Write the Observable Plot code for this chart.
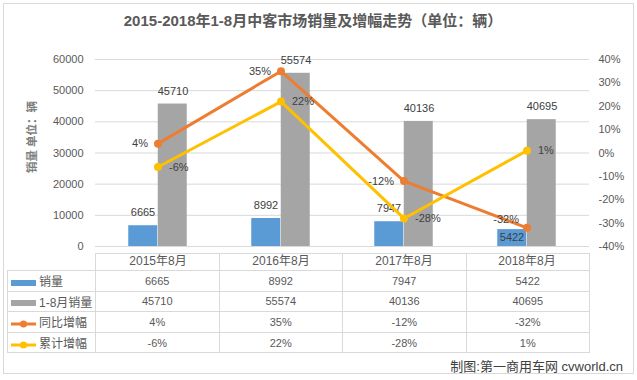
<!DOCTYPE html>
<html>
<head>
<meta charset="utf-8">
<script src="https://cdn.jsdelivr.net/npm/d3@7"></script>
<script src="https://cdn.jsdelivr.net/npm/@observablehq/plot@0.6"></script>
<style>
  body { margin: 0; background: #fff; }
  #wrap { position: relative; width: 637px; height: 380px; overflow: hidden; font-family: "Liberation Sans", "Noto Sans CJK SC", sans-serif; color: #595959; }
  #frame { position: absolute; left: 3px; top: 3px; width: 629px; height: 369px; border: 1px solid #d9d9d9; box-sizing: content-box; }
  #title { position: absolute; left: 0; top: 11px; width: 626px; text-align: center; font-size: 15px; font-weight: bold; color: #595959; line-height: 20px; }
  #chart { position: absolute; left: 0; top: 0; }
  #tbl { position: absolute; left: 7px; top: 253px; border-collapse: collapse; table-layout: fixed; }
  #tbl td { border: 1px solid #d9d9d9; padding: 0; text-align: center; font-size: 11px; color: #595959; white-space: nowrap; }
  #tbl td.lab { text-align: left; font-size: 12px; padding-left: 3px; }
  #tbl tr.head td { height: 16px; }
  #tbl tr.head td.blank { border: none; border-right: 1px solid #d9d9d9; }
  #tbl tr.row td { height: 19.6px; }
  #caption { position: absolute; right: 14px; top: 356px; font-size: 13px; color: #404040; }
  .key { display: inline-block; vertical-align: middle; margin-right: 3px; }
</style>
</head>
<body>
<div id="wrap">
  <div id="frame"></div>
  <div id="chart"></div>
  <div id="title">2015-2018年1-8月中客市场销量及增幅走势（单位：辆）</div>
  <div id="caption">制图:第一商用车网 cvworld.cn</div>
</div>
<script>
const categories = ["2015年8月", "2016年8月", "2017年8月", "2018年8月"];
const sales = [6665, 8992, 7947, 5422];
const ytdSales = [45710, 55574, 40136, 40695];
const yoyGrowth = [4, 35, -12, -32];
const ytdGrowth = [-6, 22, -28, 1];
const seriesNames = ["销量", "1-8月销量", "同比增幅", "累计增幅"];
const leftTicks = [0, 10000, 20000, 30000, 40000, 50000, 60000];
const rightTicks = [-40, -30, -20, -10, 0, 10, 20, 30, 40];
const yLabel = "销量 单位：辆";

const colors = ["#5B9BD5", "#A5A5A5", "#ED7D31", "#FFC000"];
const leftMax = 60000, pctMin = -40, pctMax = 40;
const toLeft = p => (p - pctMin) / (pctMax - pctMin) * leftMax;
const rightPos = rightTicks.map(toLeft);

const idx = categories.map((_, i) => i);
const cat = i => categories[i];
const half = 123.5 / 2, bw = 29.5;

const plot = Plot.plot({
  width: 637,
  height: 272,
  marginTop: 59,
  marginBottom: 26,
  marginLeft: 95,
  marginRight: 48,
  style: { background: "transparent", fontFamily: "Liberation Sans, Noto Sans CJK SC, sans-serif", color: "#595959" },
  x: { type: "band", domain: categories, padding: 0 },
  y: { domain: [0, leftMax] },
  marks: [
    Plot.ruleY(leftTicks, { stroke: "#d9d9d9", strokeWidth: 1 }),
    Plot.barY(idx, { x: cat, y: i => sales[i], fill: colors[0], insetLeft: half - bw, insetRight: half }),
    Plot.barY(idx, { x: cat, y: i => ytdSales[i], fill: colors[1], insetLeft: half, insetRight: half - bw }),
    Plot.axisY({ ticks: leftTicks, anchor: "left", tickSize: 0, tickPadding: 12, label: null, fontSize: 11, fill: "#595959", tickFormat: d => String(d) }),
    Plot.axisY({ ticks: rightPos, anchor: "right", tickSize: 0, tickPadding: 9, label: null, fontSize: 11, fill: "#595959",
      tickFormat: v => rightTicks[rightPos.indexOf(v)] + "%" }),
    Plot.axisX({ tickSize: 0, tickPadding: 10, label: null, fontSize: 12, fill: "#595959" }),
    Plot.text([yLabel], { frameAnchor: "left", textAnchor: "middle", dx: -63, dy: -16, rotate: -90, fontSize: 11.5, fontWeight: "bold", fill: "#7f7f7f" }),
    // bar labels
    Plot.text(idx.filter(i => categories[i] !== "2018年8月"), { x: cat, y: i => sales[i], text: i => String(sales[i]), dx: -15, dy: -13, fontSize: 11, fill: "#404040" }),
    Plot.text(idx.filter(i => categories[i] === "2018年8月"), { x: cat, y: i => sales[i], text: i => String(sales[i]), dx: -15, dy: 8, fontSize: 11, fill: "#404040" }),
    Plot.text(idx, { x: cat, y: i => ytdSales[i], text: i => String(ytdSales[i]), dx: 15, dy: -13, fontSize: 11, fill: "#404040" }),
    // lines
    Plot.line(idx, { x: cat, y: i => toLeft(yoyGrowth[i]), stroke: colors[2], strokeWidth: 3 }),
    Plot.dot(idx, { x: cat, y: i => toLeft(yoyGrowth[i]), r: 4, fill: colors[2] }),
    Plot.line(idx, { x: cat, y: i => toLeft(ytdGrowth[i]), stroke: colors[3], strokeWidth: 3 }),
    Plot.dot(idx, { x: cat, y: i => toLeft(ytdGrowth[i]), r: 4, fill: colors[3] }),
    // line labels
    Plot.text(idx.filter(i => categories[i] !== "2018年8月"), { x: cat, y: i => toLeft(yoyGrowth[i]), text: i => yoyGrowth[i] + "%", textAnchor: "end", dx: -10, fontSize: 11, fill: "#404040" }),
    Plot.text(idx.filter(i => categories[i] === "2018年8月"), { x: cat, y: i => toLeft(yoyGrowth[i]), text: i => yoyGrowth[i] + "%", textAnchor: "end", dx: -8, dy: -8, fontSize: 11, fill: "#404040" }),
    Plot.text(idx, { x: cat, y: i => toLeft(ytdGrowth[i]), text: i => ytdGrowth[i] + "%", textAnchor: "start", dx: 11, fontSize: 11, fill: "#404040" })
  ]
});
document.getElementById("chart").appendChild(plot);

// data table below the chart
const rows = [
  { name: seriesNames[0], values: sales.map(String), kind: "bar", color: colors[0] },
  { name: seriesNames[1], values: ytdSales.map(String), kind: "bar", color: colors[1] },
  { name: seriesNames[2], values: yoyGrowth.map(v => v + "%"), kind: "line", color: colors[2] },
  { name: seriesNames[3], values: ytdGrowth.map(v => v + "%"), kind: "line", color: colors[3] }
];
const keySvg = (kind, color) => kind === "bar"
  ? `<svg class="key" width="25" height="7"><rect x="0" y="0" width="25" height="6" fill="${color}"/></svg>`
  : `<svg class="key" width="25" height="8"><line x1="0" x2="25" y1="4" y2="4" stroke="${color}" stroke-width="3"/><circle cx="12.5" cy="4" r="3.5" fill="${color}"/></svg>`;

const table = d3.select("#wrap").append("table").attr("id", "tbl");
const cg = table.append("colgroup");
cg.append("col").style("width", "88px");
categories.forEach(() => cg.append("col").style("width", "123.5px"));
const head = table.append("tr").attr("class", "head");
head.append("td").attr("class", "blank");
categories.forEach(() => head.append("td"));
rows.forEach(r => {
  const tr = table.append("tr").attr("class", "row");
  tr.append("td").attr("class", "lab").html(keySvg(r.kind, r.color) + r.name);
  r.values.forEach(v => tr.append("td").text(v));
});
table.style("width", (88 + 123.5 * categories.length) + "px");
</script>
</body>
</html>
